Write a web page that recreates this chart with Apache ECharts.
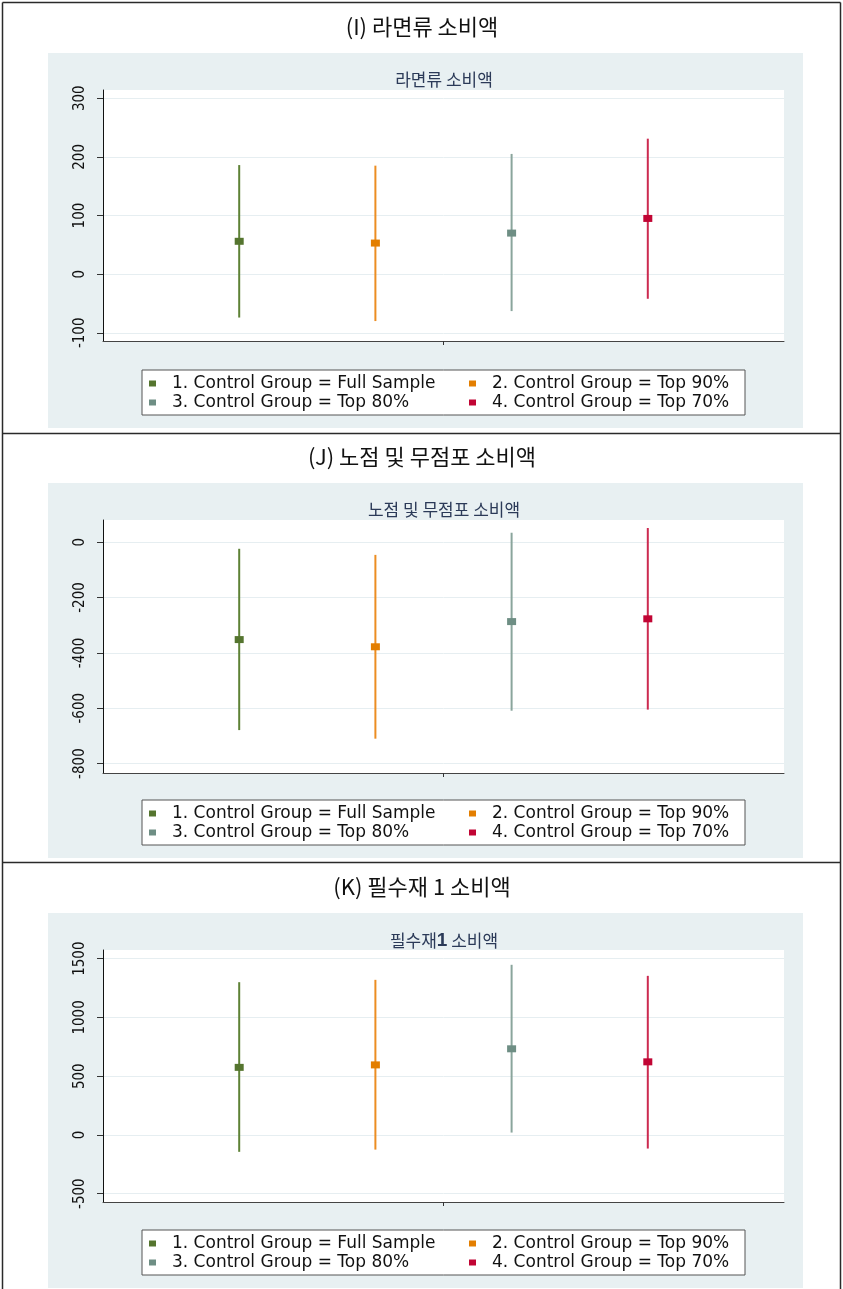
<!DOCTYPE html>
<html>
<head>
<meta charset="utf-8">
<script src="https://cdn.jsdelivr.net/npm/echarts@6/dist/echarts.min.js"></script>
<style>
  html, body { margin: 0; padding: 0; background: #fff; }
  #chart { width: 843px; height: 1289px; }
</style>
</head>
<body>
<div id="chart"></div>
<script>
// Group labels shared by all three panels
const groups = [
  '1. Control Group = Full Sample',
  '2. Control Group = Top 90%',
  '3. Control Group = Top 80%',
  '4. Control Group = Top 70%'
];
const groupPos = [1, 2, 3, 4];

// (I) 라면류 소비액 : point estimate and confidence bounds
const ramenEst = [56, 53, 70, 95];
const ramenLo  = [-74, -80, -63, -42];
const ramenHi  = [186, 185, 205, 231];
const ramenTicks = [-100, 0, 100, 200, 300];

// (J) 노점 및 무점포 소비액
const stallEst = [-352, -378, -287, -277];
const stallLo  = [-679, -710, -609, -605];
const stallHi  = [-24, -46, 34, 51];
const stallTicks = [-800, -600, -400, -200, 0];

// (K) 필수재 1 소비액
const essEst = [575, 596, 733, 622];
const essLo  = [-144, -125, 20, -116];
const essHi  = [1300, 1320, 1448, 1354];
const essTicks = [-500, 0, 500, 1000, 1500];

const markerColors = ['#55752f', '#e37e00', '#6e8e84', '#c10534'];
const lineColors   = ['#5e8236', '#ec8d22', '#8aa59c', '#cc2a50'];

const panels = [
  { title: '(I) 라면류 소비액', sub: '라면류 소비액', est: ramenEst, lo: ramenLo, hi: ramenHi,
    ticks: ramenTicks, min: -114, max: 314, plotH: 251 },
  { title: '(J) 노점 및 무점포 소비액', sub: '노점 및 무점포 소비액', est: stallEst, lo: stallLo, hi: stallHi,
    ticks: stallTicks, min: -834, max: 80, plotH: 253 },
  { title: '(K) 필수재 1 소비액', sub: '필수재{b|1} 소비액', est: essEst, lo: essLo, hi: essHi,
    ticks: essTicks, min: -571, max: 1574, plotH: 252 }
];

const STEP = 430;
const titles = [], grids = [], xAxes = [], yAxes = [], legends = [], series = [], graphics = [];

panels.forEach((p, k) => {
  const dy = STEP * k;

  // panel background (graph region)
  graphics.push({
    type: 'rect', z: -10, silent: true,
    shape: { x: 48, y: 53 + dy, width: 755, height: 375 },
    style: { fill: '#e8f0f2' }
  });

  titles.push({
    text: p.title, left: 422, top: 16 + dy, textAlign: 'center', padding: 0,
    textStyle: { fontFamily: 'Noto Sans CJK KR', fontSize: 22, fontWeight: 'normal', color: '#111' }
  });
  titles.push({
    text: p.sub, left: 444, top: 71 + dy, textAlign: 'center', padding: 0,
    textStyle: {
      fontFamily: 'Noto Sans CJK KR', fontSize: 17, fontWeight: 'normal', color: '#2b3a58',
      rich: { b: { fontFamily: 'Liberation Sans', fontSize: 19, fontWeight: 'bold', color: '#2b3a58' } }
    }
  });

  grids.push({
    left: 103, top: 90 + dy, width: 681, height: p.plotH,
    show: true, backgroundColor: '#ffffff', borderWidth: 0
  });

  xAxes.push({
    type: 'value', gridIndex: k, min: 0, max: 5,
    axisLine: { show: true, onZero: false, lineStyle: { color: '#444', width: 1 } },
    axisTick: { show: true, length: 4, customValues: [2.5], lineStyle: { color: '#333' } },
    axisLabel: { show: false },
    splitLine: { show: false }
  });

  yAxes.push({
    type: 'value', gridIndex: k, min: p.min, max: p.max,
    axisLine: { show: true, onZero: false, lineStyle: { color: '#111', width: 1 } },
    axisTick: { show: true, length: 6, customValues: p.ticks, lineStyle: { color: '#333' } },
    axisLabel: {
      customValues: p.ticks, rotate: 90, margin: 15,
      formatter: (v) => String(v),
      fontFamily: 'Liberation Sans Narrow, DejaVu Sans Condensed, Liberation Sans',
      fontSize: 15, color: '#111'
    },
    splitLine: { show: true, lineStyle: { color: '#e6eef1', width: 1 } }
  });

  legends.push({
    left: 142, top: 370 + dy, width: 600, orient: 'horizontal',
    padding: [5, 8, 4, 7], itemGap: 2, itemWidth: 7, itemHeight: 6, icon: 'rect',
    backgroundColor: '#ffffff', borderColor: '#555', borderWidth: 1,
    selectedMode: false,
    textStyle: { fontFamily: 'DejaVu Sans', fontSize: 17, color: '#111', lineHeight: 17, padding: [0, 0, 0, 11] },
    data: groups.map((g, i) => ({
      name: g,
      itemStyle: { color: markerColors[i], opacity: 1 },
      textStyle: { width: i % 2 === 0 ? 295 : 245 }
    }))
  });

  groups.forEach((g, i) => {
    // point estimate
    series.push({
      name: g, type: 'scatter', xAxisIndex: k, yAxisIndex: k, z: 5,
      symbol: 'rect', symbolSize: [9, 7],
      itemStyle: { color: markerColors[i], opacity: 1 },
      data: [[groupPos[i], p.est[i]]]
    });
    // confidence interval
    series.push({
      name: g, type: 'line', xAxisIndex: k, yAxisIndex: k, z: 3,
      showSymbol: false, symbol: 'none',
      itemStyle: { color: markerColors[i] },
      lineStyle: { color: lineColors[i], width: 2 },
      data: [[groupPos[i], p.lo[i]], [groupPos[i], p.hi[i]]]
    });
  });
});

// outer frame and panel separators
const frame = { stroke: '#2a2a2a', lineWidth: 1.5 };
graphics.push({ type: 'line', silent: true, shape: { x1: 2.5, y1: 2.5, x2: 840.5, y2: 2.5 }, style: frame });
graphics.push({ type: 'line', silent: true, shape: { x1: 2.5, y1: 2.5, x2: 2.5, y2: 1289 }, style: frame });
graphics.push({ type: 'line', silent: true, shape: { x1: 840.5, y1: 2.5, x2: 840.5, y2: 1289 }, style: frame });
graphics.push({ type: 'line', silent: true, shape: { x1: 2.5, y1: 433.5, x2: 840.5, y2: 433.5 }, style: frame });
graphics.push({ type: 'line', silent: true, shape: { x1: 2.5, y1: 862.5, x2: 840.5, y2: 862.5 }, style: frame });

const chart = echarts.init(document.getElementById('chart'), null, { renderer: 'canvas' });
chart.setOption({
  animation: false,
  backgroundColor: '#ffffff',
  title: titles,
  grid: grids,
  xAxis: xAxes,
  yAxis: yAxes,
  legend: legends,
  graphic: graphics,
  series: series
});
</script>
</body>
</html>
